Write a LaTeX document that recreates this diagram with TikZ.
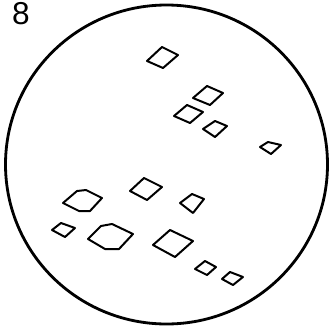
\documentclass[tikz,border=0pt]{standalone}
\usepackage{fontspec}
\newfontfamily\numfont{Liberation Sans}
\usepackage{tikz}
\tikzset{
  rand/.style={line width=2.4pt},
  kristall/.style={draw,line width=1.7pt,line join=round}
}
\begin{document}
\begin{tikzpicture}[x=0.03cm,y=-0.03cm]
\useasboundingbox (0,0) rectangle (330,328);
\node[font=\numfont\fontsize{27}{30}\selectfont] (nr) at (21,14) {8};
\draw[rand] (166.5,164.5) ellipse [x radius=161,y radius=159.5];
% obere Gruppe
\draw[kristall] (147,61)--(162,47)--(178,55)--(163,68)--cycle;
\draw[kristall] (193,98)--(207,86)--(223,93)--(210,105)--cycle;
\draw[kristall] (174,116)--(187,105)--(203,112)--(190,123)--cycle;
\draw[kristall] (203,129)--(215,121)--(227,126)--(215,137)--cycle;
\draw[kristall] (260,147)--(268,142)--(281,145)--(271,154)--cycle;
% untere Gruppe
\draw[kristall] (63,203)--(77,191)--(86,190)--(102,198)--(90,211)--(79,211)--cycle;
\draw[kristall] (52,230)--(61,223)--(75,228)--(65,237)--cycle;
\draw[kristall] (88,239)--(101,226)--(112,224)--(133,234)--(119,249)--(105,249)--cycle;
\draw[kristall] (130,191)--(144,178)--(162,187)--(147,200)--cycle;
\draw[kristall] (180,203)--(192,194)--(204,199)--(193,213)--cycle;
\draw[kristall] (153,245)--(170,230)--(193,241)--(175,257)--cycle;
\draw[kristall] (195,269)--(205,261)--(216,267)--(207,275)--cycle;
\draw[kristall] (222,279)--(230,272)--(243,277)--(233,285)--cycle;
\end{tikzpicture}
\end{document}
